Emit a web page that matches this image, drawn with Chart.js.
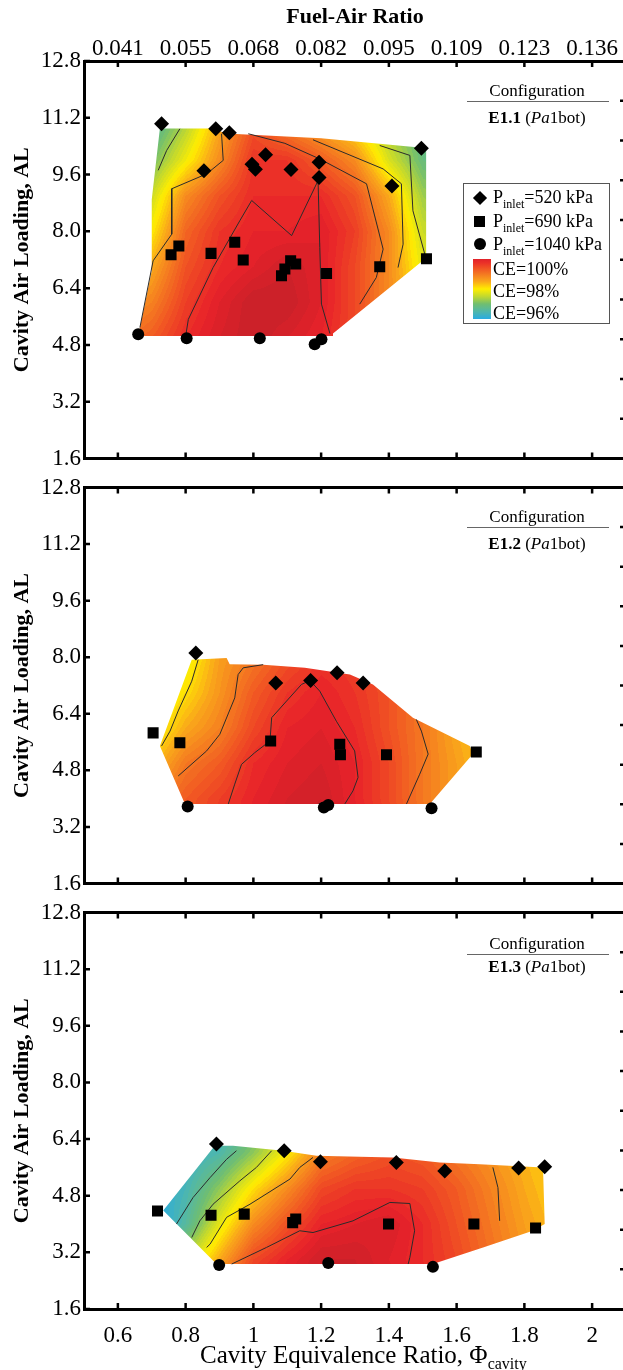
<!DOCTYPE html>
<html>
<head>
<meta charset="utf-8">
<script src="https://cdn.jsdelivr.net/npm/chart.js@4.4.1/dist/chart.umd.min.js"></script>
<style>
html,body{margin:0;padding:0;background:#fff;width:623px;height:1370px;overflow:hidden}
#wrap{position:relative;width:640px;height:1370px;overflow:hidden}
canvas{position:absolute;left:0}
.t{position:absolute;font-family:"Liberation Serif","Times New Roman",serif;color:#000;white-space:nowrap}
.cfg{font-size:17px;line-height:20px;width:150px;left:462px;text-align:center}
.rule{position:absolute;left:467px;width:142px;height:0;border-top:1.5px solid #666}
.lg{font-size:18px;line-height:20px;left:493px}
.sb{font-size:12px;position:relative;top:5px}
.mk{position:absolute;background:#000}
</style>
</head>
<body>
<div id="wrap">
<canvas id="c1" width="640" height="473" style="top:0px"></canvas>
<canvas id="c2" width="640" height="425" style="top:473px"></canvas>
<canvas id="c3" width="640" height="472" style="top:898px"></canvas>

<div class="t cfg" style="top:81px">Configuration</div>
<div class="rule" style="top:101px"></div>
<div class="t cfg" style="top:108px"><b>E1.1</b> (<i>Pa</i>1bot)</div>

<div class="t cfg" style="top:507px">Configuration</div>
<div class="rule" style="top:527px"></div>
<div class="t cfg" style="top:534px"><b>E1.2</b> (<i>Pa</i>1bot)</div>

<div class="t cfg" style="top:934px">Configuration</div>
<div class="rule" style="top:954px"></div>
<div class="t cfg" style="top:957px"><b>E1.3</b> (<i>Pa</i>1bot)</div>

<div style="position:absolute;left:463px;top:183px;width:145px;height:139px;border:1px solid #555;background:#fff"></div>
<div class="mk" style="left:475px;top:193px;width:10px;height:10px;transform:rotate(45deg)"></div>
<div class="mk" style="left:474px;top:216px;width:11px;height:11px"></div>
<div class="mk" style="left:474px;top:238px;width:12px;height:12px;border-radius:50%"></div>
<div id="cbar" style="position:absolute;left:473px;top:259px;width:18px;height:60px"></div>
<div class="t lg" style="top:187px">P<span class="sb">inlet</span>=520 kPa</div>
<div class="t lg" style="top:211px">P<span class="sb">inlet</span>=690 kPa</div>
<div class="t lg" style="top:234px">P<span class="sb">inlet</span>=1040 kPa</div>
<div class="t lg" style="top:259px">CE=100%</div>
<div class="t lg" style="top:281px">CE=98%</div>
<div class="t lg" style="top:303px">CE=96%</div>

<div class="t" style="left:200px;top:1341px;font-size:25px;line-height:28px">Cavity Equivalence Ratio, &Phi;<span style="font-size:16px;position:relative;top:6px">cavity</span></div>
</div>

<script>
// ---------- axis ticks ----------
const phiTicks = [0.6, 0.8, 1.0, 1.2, 1.4, 1.6, 1.8, 2.0];
const phiLabels = ['0.6', '0.8', '1', '1.2', '1.4', '1.6', '1.8', '2'];
const farLabels = ['0.041', '0.055', '0.068', '0.082', '0.095', '0.109', '0.123', '0.136'];
const alTicks = [1.6, 3.2, 4.8, 6.4, 8.0, 9.6, 11.2, 12.8];
const alLabels = ['1.6', '3.2', '4.8', '6.4', '8.0', '9.6', '11.2', '12.8'];

// ---------- E1.1 ----------
const e11_520_phi = [0.729, 0.889, 0.929, 1.036, 0.996, 1.006, 0.854, 1.111, 1.194, 1.194, 1.409, 1.496];
const e11_520_al  = [11.03, 10.89, 10.78, 10.16, 9.89, 9.75, 9.71, 9.74, 9.95, 9.52, 9.28, 10.34];
const e11_690_phi = [0.780, 0.757, 0.875, 0.945, 0.970, 1.110, 1.125, 1.093, 1.083, 1.216, 1.373, 1.511];
const e11_690_al  = [7.59, 7.34, 7.38, 7.69, 7.19, 7.17, 7.08, 6.94, 6.75, 6.81, 7.00, 7.23];
const e11_1040_phi = [0.660, 0.803, 1.019, 1.181, 1.201];
const e11_1040_al  = [5.10, 4.99, 4.99, 4.82, 4.96];
const e11_edge = [[0.724,10.90],[0.88,10.90],[0.92,10.76],[1.20,10.62],[1.49,10.36],[1.51,10.28],[1.51,7.25],[1.235,5.12],[1.235,5.05],[0.66,5.05],[0.70,6.9],[0.70,8.9]];
const e11_gridPhi = [0.6, 0.7, 0.8, 0.9, 1.0, 1.1, 1.2, 1.3, 1.4, 1.5, 1.6];
const e11_gridAL = [11, 10, 9, 8, 7, 6, 5];
const e11_ce = [
  [96.3, 96.6, 97.4, 98.5, 99.4, 98.9, 98.5, 98.0, 97.3, 96.8, 96.6],
  [96.6, 97.0, 97.9, 98.8, 99.7, 99.7, 99.3, 98.8, 97.7, 96.9, 96.7],
  [97.1, 97.6, 98.8, 99.4, 99.8, 99.8, 99.8, 99.4, 98.5, 97.3, 97.0],
  [97.6, 98.0, 99.2, 99.7, 99.9, 99.9, 100.0, 99.6, 98.8, 97.6, 97.3],
  [98.2, 98.5, 99.4, 99.8, 100.0, 100.2, 100.0, 99.5, 98.8, 97.8, 97.5],
  [98.6, 98.9, 99.6, 100.0, 100.3, 100.3, 100.0, 99.5, 98.8, 98.0, 97.7],
  [99.0, 99.3, 99.8, 100.1, 100.3, 100.1, 99.9, 99.5, 98.9, 98.2, 97.9]
];
const e11_lineA = [[0.783,10.89],[0.744,10.28],[0.719,9.72]];
const e11_lineB = [[0.906,10.75],[0.911,10.0],[0.862,9.62],[0.759,9.20],[0.759,7.92],[0.704,7.17],[0.665,5.29]];
const e11_lineC = [[0.801,5.10],[0.808,5.52],[0.881,6.98],[0.960,8.30],[0.995,8.87],[1.113,7.88],[1.191,9.43],[1.196,7.55],[1.201,5.95],[1.226,5.12]];
const e11_lineD = [[0.985,10.75],[1.093,10.48],[1.196,10.04],[1.334,9.34],[1.383,7.50],[1.363,6.70],[1.314,5.95]];
const e11_lineE = [[1.176,10.58],[1.383,9.76],[1.437,9.34],[1.442,7.64],[1.427,6.98]];
const e11_lineF = [[1.373,10.42],[1.462,10.14],[1.471,8.58],[1.506,7.36]];

// ---------- E1.2 ----------
const e12_520_phi = [0.830, 1.066, 1.169, 1.247, 1.324];
const e12_520_al  = [8.12, 7.27, 7.34, 7.56, 7.27];
const e12_690_phi = [0.704, 0.783, 1.051, 1.255, 1.257, 1.393, 1.658];
const e12_690_al  = [5.86, 5.58, 5.63, 5.54, 5.24, 5.24, 5.32];
const e12_1040_phi = [0.806, 1.208, 1.221, 1.526];
const e12_1040_al  = [3.78, 3.75, 3.82, 3.73];
const e12_edge = [[0.818,7.93],[0.921,7.98],[0.93,7.80],[1.029,7.79],[1.152,7.70],[1.285,7.51],[1.353,7.23],[1.471,6.29],[1.639,5.49],[1.648,5.26],[1.521,3.85],[0.798,3.85],[0.724,5.49]];
const e12_gridPhi = [0.6, 0.7, 0.8, 0.9, 1.0, 1.1, 1.2, 1.3, 1.4, 1.5, 1.6, 1.7];
const e12_gridAL = [9, 8, 7, 6, 5, 4, 3];
const e12_ce = [
  [97.0, 97.3, 97.6, 98.3, 98.8, 99.2, 99.5, 99.4, 99.1, 98.7, 98.3, 97.9],
  [97.2, 97.5, 97.8, 98.6, 99.0, 99.4, 99.7, 99.6, 99.3, 98.9, 98.5, 98.0],
  [97.3, 97.6, 98.1, 98.7, 99.3, 99.7, 99.9, 99.7, 99.4, 99.0, 98.6, 98.1],
  [97.3, 97.8, 98.5, 98.9, 99.5, 99.9, 100.0, 99.8, 99.4, 99.0, 98.5, 98.1],
  [97.9, 98.3, 99.0, 99.3, 99.8, 100.0, 100.1, 99.9, 99.5, 99.0, 98.6, 98.2],
  [98.5, 98.9, 99.3, 99.6, 99.9, 100.1, 100.2, 99.9, 99.5, 99.0, 98.6, 98.2],
  [98.8, 99.1, 99.4, 99.7, 100.0, 100.2, 100.3, 100.0, 99.6, 99.1, 98.7, 98.3]
];
const e12_lineA = [[0.837,7.93],[0.818,7.32],[0.778,6.48],[0.754,5.91],[0.729,5.49]];
const e12_lineB = [[1.029,7.79],[0.970,7.70],[0.955,7.51],[0.945,6.85],[0.901,5.82],[0.862,5.35],[0.778,4.64]];
const e12_lineC = [[0.926,3.85],[0.945,4.41],[0.965,4.97],[1.004,5.30],[1.049,5.63],[1.054,6.29],[1.098,6.76],[1.142,7.23],[1.167,7.34],[1.196,7.04],[1.245,6.19],[1.299,5.35],[1.309,4.60],[1.294,4.22],[1.270,3.85]];
const e12_lineD = [[1.481,6.24],[1.496,5.91],[1.516,5.26],[1.491,4.69],[1.452,3.85]];

// ---------- E1.3 ----------
const e13_520_phi = [0.891, 1.091, 1.198, 1.422, 1.565, 1.783, 1.860];
const e13_520_al  = [6.26, 6.07, 5.76, 5.74, 5.50, 5.58, 5.62];
const e13_690_phi = [0.717, 0.875, 0.973, 1.125, 1.116, 1.399, 1.651, 1.833];
const e13_690_al  = [4.37, 4.25, 4.28, 4.14, 4.04, 4.00, 4.00, 3.89];
const e13_1040_phi = [0.899, 1.221, 1.530];
const e13_1040_al  = [2.84, 2.90, 2.79];
const e13_edge = [[0.886,6.21],[0.940,6.21],[1.088,6.07],[1.186,5.93],[1.412,5.88],[1.550,5.74],[1.668,5.69],[1.855,5.60],[1.860,4.0],[1.825,3.81],[1.678,3.34],[1.530,2.87],[0.891,2.87],[0.734,4.38]];
const e13_gridPhi = [0.7, 0.8, 0.9, 1.0, 1.1, 1.2, 1.3, 1.4, 1.5, 1.6, 1.7, 1.8, 1.9];
const e13_gridAL = [7, 6, 5, 4, 3, 2];
const e13_ce = [
  [95.8, 96.0, 96.2, 96.7, 97.5, 98.4, 98.9, 99.1, 99.0, 98.8, 98.5, 98.2, 98.0],
  [95.9, 96.2, 96.5, 97.2, 98.0, 98.9, 99.2, 99.4, 99.3, 99.0, 98.7, 98.4, 98.1],
  [96.0, 96.4, 97.2, 98.1, 98.8, 99.5, 99.7, 99.7, 99.6, 99.3, 98.9, 98.5, 98.2],
  [95.8, 96.6, 97.8, 98.8, 99.4, 99.9, 100.0, 100.1, 99.8, 99.4, 99.0, 98.6, 98.3],
  [96.5, 97.5, 98.5, 99.5, 99.9, 100.2, 100.2, 100.0, 99.8, 99.5, 99.1, 98.7, 98.4],
  [98.0, 98.5, 99.3, 99.9, 100.1, 100.3, 100.3, 100.1, 99.9, 99.6, 99.2, 98.8, 98.5]
];
const e13_lineA = [[0.950,6.07],[0.921,5.83],[0.872,5.31],[0.822,4.75],[0.773,4.0]];
const e13_lineB = [[1.054,6.07],[1.009,5.60],[0.960,5.22],[0.881,4.56],[0.842,4.09],[0.818,3.62]];
const e13_lineC = [[1.176,5.88],[1.137,5.60],[1.108,5.27],[0.990,4.56],[0.921,4.19],[0.872,3.43],[0.862,3.34]];
const e13_lineD = [[0.936,2.87],[1.039,3.34],[1.137,3.81],[1.176,3.76],[1.294,4.09],[1.403,4.61],[1.462,4.58],[1.476,3.81],[1.462,3.06],[1.457,2.87]];
const e13_lineE = [[1.707,5.60],[1.722,5.03],[1.727,4.09]];

// ---------- colour map (CE %) ----------
const ceStops  = [96.0, 96.5, 97.0, 97.5, 98.0, 98.5, 99.0, 99.5, 99.9, 100.4];
const ceColors = [[41,171,226],[80,183,170],[112,190,112],[192,216,48],[255,237,0],[250,168,26],[244,120,33],[239,72,36],[232,34,42],[192,32,40]];

function ceColor(v) {
  if (v <= ceStops[0]) return ceColors[0];
  const n = ceStops.length;
  if (v >= ceStops[n-1]) return ceColors[n-1];
  for (let i = 0; i < n-1; i++) {
    if (v <= ceStops[i+1]) {
      const t = (v - ceStops[i]) / (ceStops[i+1] - ceStops[i]);
      const a = ceColors[i], b = ceColors[i+1];
      return [a[0]+(b[0]-a[0])*t, a[1]+(b[1]-a[1])*t, a[2]+(b[2]-a[2])*t];
    }
  }
  return ceColors[n-1];
}
function locate(arr, v) {
  const n = arr.length, asc = arr[n-1] > arr[0];
  let i = 0;
  for (; i < n-2; i++) { const b = arr[i+1]; if (asc ? v < b : v > b) break; }
  let t = (v - arr[i]) / (arr[i+1] - arr[i]);
  t = Math.max(0, Math.min(1, t));
  return [i, t];
}
function fieldValue(p, phi, al) {
  const [ci, ct] = locate(p.gridPhi, phi);
  const [ri, rt] = locate(p.gridAL, al);
  const g = p.ce;
  const a = g[ri][ci]*(1-ct) + g[ri][ci+1]*ct;
  const b = g[ri+1][ci]*(1-ct) + g[ri+1][ci+1]*ct;
  return a*(1-rt) + b*rt;
}

const panels = {
  c1: { edge: e11_edge, gridPhi: e11_gridPhi, gridAL: e11_gridAL, ce: e11_ce },
  c2: { edge: e12_edge, gridPhi: e12_gridPhi, gridAL: e12_gridAL, ce: e12_ce },
  c3: { edge: e13_edge, gridPhi: e13_gridPhi, gridAL: e13_gridAL, ce: e13_ce }
};

const fieldPlugin = {
  id: 'ceField',
  beforeDatasetsDraw(chart) {
    const p = panels[chart.canvas.id];
    if (!p) return;
    const xs = chart.scales.x, ys = chart.scales.y, ctx = chart.ctx;
    const poly = p.edge.map(q => [xs.getPixelForValue(q[0]), ys.getPixelForValue(q[1])]);
    let x0 = Infinity, x1 = -Infinity, y0 = Infinity, y1 = -Infinity;
    poly.forEach(([x, y]) => { x0 = Math.min(x0, x); x1 = Math.max(x1, x); y0 = Math.min(y0, y); y1 = Math.max(y1, y); });
    x0 = Math.floor(x0) - 1; y0 = Math.floor(y0) - 1; x1 = Math.ceil(x1) + 1; y1 = Math.ceil(y1) + 1;
    const w = x1 - x0, h = y1 - y0;
    const off = document.createElement('canvas'); off.width = w; off.height = h;
    const octx = off.getContext('2d');
    const img = octx.createImageData(w, h); const d = img.data;
    for (let j = 0; j < h; j++) {
      const al = ys.getValueForPixel(y0 + j + 0.5);
      for (let i = 0; i < w; i++) {
        const phi = xs.getValueForPixel(x0 + i + 0.5);
        let v = fieldValue(p, phi, al);
        v = (Math.floor(v * 10) + 0.5) / 10;
        const c = ceColor(v), k = (j * w + i) * 4;
        d[k] = c[0]; d[k+1] = c[1]; d[k+2] = c[2]; d[k+3] = 255;
      }
    }
    octx.putImageData(img, 0, 0);
    ctx.save();
    ctx.beginPath();
    poly.forEach(([x, y], i) => i ? ctx.lineTo(x, y) : ctx.moveTo(x, y));
    ctx.closePath(); ctx.clip();
    ctx.drawImage(off, x0, y0);
    ctx.restore();
  }
};

const tickPlugin = {
  id: 'inTicks',
  afterDraw(chart) {
    const { ctx, chartArea: a, scales } = chart;
    const L = 6;
    ctx.save(); ctx.strokeStyle = '#000'; ctx.lineWidth = 2.5; ctx.beginPath();
    phiTicks.forEach(v => { const x = scales.x.getPixelForValue(v);
      ctx.moveTo(x, a.bottom); ctx.lineTo(x, a.bottom - L); ctx.moveTo(x, a.top); ctx.lineTo(x, a.top + L); });
    alTicks.forEach(v => { const y = scales.y.getPixelForValue(v); ctx.moveTo(a.left, y); ctx.lineTo(a.left + L, y); });
    for (let k = 1; k < 10; k++) { const y = scales.yR.getPixelForValue(k); ctx.moveTo(a.right, y); ctx.lineTo(a.right - L, y); }
    ctx.stroke(); ctx.restore();
  }
};

Chart.defaults.font.family = '"Liberation Serif", "Times New Roman", serif';
Chart.defaults.color = '#000';

const pts = (xs, ys) => xs.map((x, i) => ({ x: x, y: ys[i] }));
const markerDs = (xs, ys, style, r) => ({ data: pts(xs, ys), pointStyle: style, pointRadius: r, backgroundColor: '#000', borderColor: '#000', borderWidth: 0, order: 1 });
const lineDs = (arr) => ({ data: arr.map(q => ({ x: q[0], y: q[1] })), showLine: true, pointRadius: 0, borderColor: '#2b2b2b', borderWidth: 1, fill: false, tension: 0, order: 5 });

function makeChart(id, datasets, topH, botH, topLabels, botLabels) {
  const border = { display: true, width: 3, color: '#000' };
  const grid = { display: false, drawTicks: false };
  const tickFont = { size: 23, lineHeight: 1 };
  return new Chart(document.getElementById(id), {
    type: 'scatter',
    data: { datasets: datasets },
    plugins: [fieldPlugin, tickPlugin],
    options: {
      responsive: false, animation: false, events: [],
      layout: { padding: 0 },
      plugins: { legend: { display: false }, tooltip: { enabled: false } },
      scales: {
        x: {
          type: 'linear', position: 'bottom', min: 0.5, max: 2.1,
          afterBuildTicks: s => { s.ticks = phiTicks.map(v => ({ value: v })); },
          ticks: { display: botLabels, autoSkip: false, maxRotation: 0, font: tickFont, padding: 15, callback: (v, i) => phiLabels[i] },
          grid: grid, border: border,
          afterFit: s => { s.height = botH; }
        },
        xTop: {
          type: 'linear', position: 'top', min: 0.5, max: 2.1,
          afterBuildTicks: s => { s.ticks = phiTicks.map(v => ({ value: v })); },
          ticks: { display: topLabels, autoSkip: false, maxRotation: 0, font: tickFont, padding: 1, callback: (v, i) => farLabels[i] },
          grid: grid, border: border,
          title: { display: topLabels, text: 'Fuel-Air Ratio', font: { size: 22, weight: 'bold' }, padding: { top: 4, bottom: 0 } },
          afterFit: s => { s.height = topH; }
        },
        y: {
          type: 'linear', position: 'left', min: 1.6, max: 12.8,
          afterBuildTicks: s => { s.ticks = alTicks.map(v => ({ value: v })); },
          ticks: { autoSkip: false, font: tickFont, padding: 3, callback: (v, i) => alLabels[i] },
          grid: grid, border: border,
          title: { display: true, text: 'Cavity Air Loading, AL', font: { size: 22, weight: 'bold' }, padding: { top: 9, bottom: 0 } },
          afterFit: s => { s.width = 84; }
        },
        yR: {
          type: 'linear', position: 'right', min: 0, max: 10,
          ticks: { display: false },
          grid: grid, border: border,
          afterFit: s => { s.width = 14; }
        }
      }
    }
  });
}

makeChart('c1', [
  lineDs(e11_lineA), lineDs(e11_lineB), lineDs(e11_lineC), lineDs(e11_lineD), lineDs(e11_lineE), lineDs(e11_lineF),
  markerDs(e11_520_phi, e11_520_al, 'rectRot', 7.5),
  markerDs(e11_690_phi, e11_690_al, 'rect', 7.8),
  markerDs(e11_1040_phi, e11_1040_al, 'circle', 6)
], 61, 14, true, false);

makeChart('c2', [
  lineDs(e12_lineA), lineDs(e12_lineB), lineDs(e12_lineC), lineDs(e12_lineD),
  markerDs(e12_520_phi, e12_520_al, 'rectRot', 7.5),
  markerDs(e12_690_phi, e12_690_al, 'rect', 7.8),
  markerDs(e12_1040_phi, e12_1040_al, 'circle', 6)
], 14, 14, false, false);

makeChart('c3', [
  lineDs(e13_lineA), lineDs(e13_lineB), lineDs(e13_lineC), lineDs(e13_lineD), lineDs(e13_lineE),
  markerDs(e13_520_phi, e13_520_al, 'rectRot', 7.5),
  markerDs(e13_690_phi, e13_690_al, 'rect', 7.8),
  markerDs(e13_1040_phi, e13_1040_al, 'circle', 6)
], 13, 61, false, true);

// legend colour bar from the same colour map
(function () {
  const stops = [];
  for (let k = 0; k <= 16; k++) {
    const v = 100 - k * 0.25;
    const c = ceColor(v).map(Math.round);
    stops.push('rgb(' + c.join(',') + ') ' + (k / 16 * 100).toFixed(1) + '%');
  }
  document.getElementById('cbar').style.background = 'linear-gradient(to bottom,' + stops.join(',') + ')';
})();
</script>
</body>
</html>
